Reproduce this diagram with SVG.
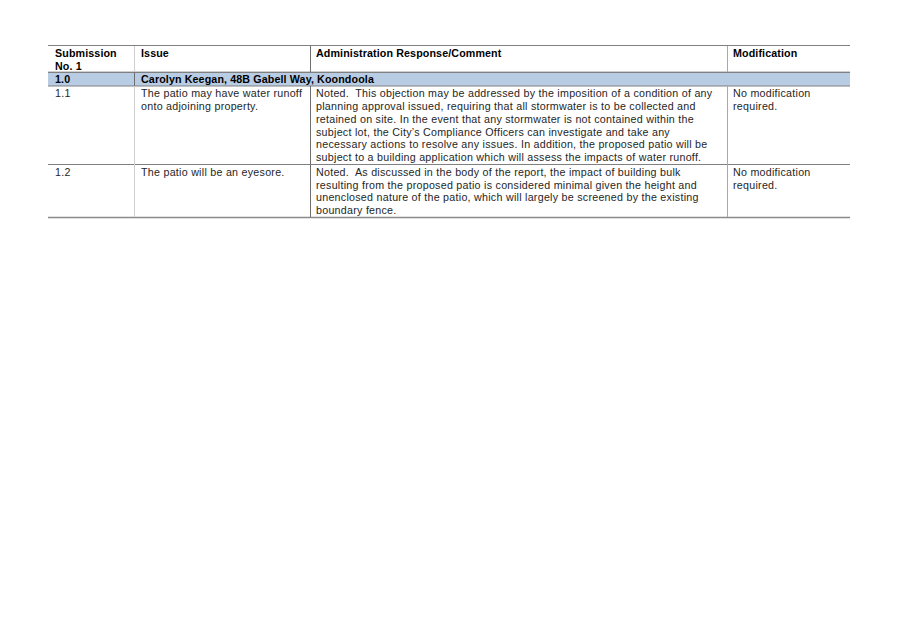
<svg xmlns="http://www.w3.org/2000/svg" width="897" height="618" viewBox="0 0 897 618">
<style>
text{font-family:"Liberation Sans",Arial,sans-serif;font-size:10.7px;fill:#262626;letter-spacing:0.26px;white-space:pre}
.b{font-weight:bold;fill:#000;letter-spacing:0.12px}
.hl{stroke:#808080;stroke-width:1;fill:none}
.lt{stroke:#cfcfcf;stroke-width:1;fill:none}
.md{stroke:#a8a8a8;stroke-width:1;fill:none}
.dk{stroke:#6e6e6e;stroke-width:1;fill:none}
</style>
<rect width="897" height="618" fill="#fff"/>
<g id="connectors">
<rect x="48" y="72" width="802" height="14" fill="#b8cce4"/>
<line class="hl" x1="48" y1="45.5" x2="850" y2="45.5"/>
<line class="lt" x1="48" y1="71.5" x2="850" y2="71.5"/>
<line class="hl" x1="48" y1="72.5" x2="850" y2="72.5"/>
<line class="hl" x1="48" y1="86" x2="850" y2="86"/>
<line class="hl" x1="48" y1="164.5" x2="850" y2="164.5"/>
<line x1="48" y1="217.5" x2="850" y2="217.5" stroke="#8a8a8a" stroke-width="1.6"/>
<line class="lt" x1="134.5" y1="46" x2="134.5" y2="72"/>
<line class="dk" x1="134.5" y1="72" x2="134.5" y2="86"/>
<line class="lt" x1="134.5" y1="86" x2="134.5" y2="217"/>
<line class="dk" x1="310.5" y1="46" x2="310.5" y2="72"/>
<line class="dk" x1="310.5" y1="86" x2="310.5" y2="217"/>
<line class="md" x1="727.5" y1="46" x2="727.5" y2="72"/>
<line class="md" x1="727.5" y1="86" x2="727.5" y2="217"/>
</g>
<g id="header">
<text class="b" x="55" y="57">Submission</text>
<text class="b" x="55" y="69.6">No. 1</text>
<text class="b" x="141" y="57">Issue</text>
<text class="b" x="316" y="57">Administration Response/Comment</text>
<text class="b" x="733" y="57">Modification</text>
</g>
<g id="submission-1-0">
<text class="b" x="55" y="83">1.0</text>
<text class="b" x="141" y="83">Carolyn Keegan, 48B Gabell Way, Koondoola</text>
</g>
<g id="row-1-1">
<text x="55" y="97.2">1.1</text>
<text x="141" y="97.2">The patio may have water runoff</text>
<text x="141" y="110">onto adjoining property.</text>
<text x="316" y="97.2">Noted.  This objection may be addressed by the imposition of a condition of any</text>
<text x="316" y="110">planning approval issued, requiring that all stormwater is to be collected and</text>
<text x="316" y="122.7">retained on site. In the event that any stormwater is not contained within the</text>
<text x="316" y="135.5">subject lot, the City’s Compliance Officers can investigate and take any</text>
<text x="316" y="148.2">necessary actions to resolve any issues. In addition, the proposed patio will be</text>
<text x="316" y="161">subject to a building application which will assess the impacts of water runoff.</text>
<text x="733" y="97.2">No modification</text>
<text x="733" y="110">required.</text>
</g>
<g id="row-1-2">
<text x="55" y="175.8">1.2</text>
<text x="141" y="175.8">The patio will be an eyesore.</text>
<text x="316" y="175.8">Noted.  As discussed in the body of the report, the impact of building bulk</text>
<text x="316" y="188.5">resulting from the proposed patio is considered minimal given the height and</text>
<text x="316" y="201.2">unenclosed nature of the patio, which will largely be screened by the existing</text>
<text x="316" y="213.9">boundary fence.</text>
<text x="733" y="175.8">No modification</text>
<text x="733" y="188.5">required.</text>
</g>
</svg>
